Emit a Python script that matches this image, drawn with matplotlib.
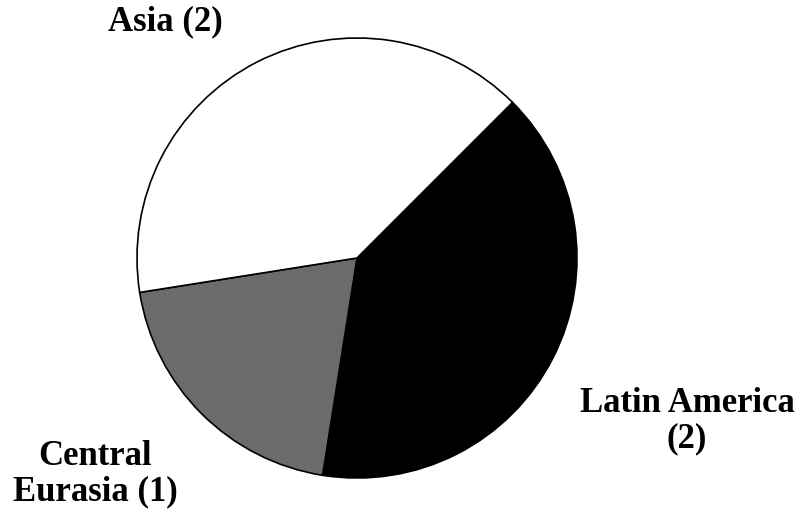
import matplotlib.pyplot as plt

regions = ["Latin America", "Central Eurasia", "Asia"]
counts = [2, 1, 2]
colors = ["#000000", "#6b6b6b", "#ffffff"]

plt.rcParams['font.family'] = ['Liberation Serif', 'DejaVu Serif']

fig = plt.figure(figsize=(7.99, 5.19), dpi=100)
ax = fig.add_axes([137 / 799, 41 / 519, 440 / 799, 440 / 519])
ax.pie(counts, colors=colors, startangle=45, counterclock=False,
       wedgeprops=dict(edgecolor="black", linewidth=1.2))
ax.set_xlim(-1, 1)
ax.set_ylim(-1, 1)
ax.set_aspect("equal")
ax.axis("off")

def label(text, x, y):
    fig.text(x / 799, 1 - y / 519, text, ha="center", va="center",
             fontsize=25, fontweight="bold", linespacing=1.1)

label("Asia (2)", 165, 22)
label("Latin America\n(2)", 687, 421)
label("Central\nEurasia (1)", 95, 474)

fig.savefig("out.png", dpi=100)
